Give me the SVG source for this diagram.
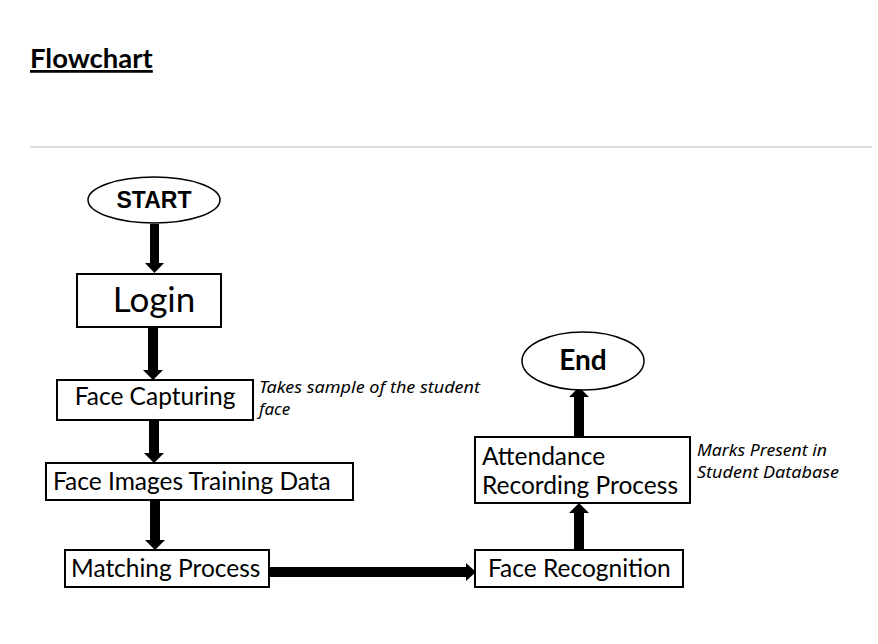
<svg xmlns="http://www.w3.org/2000/svg" width="878" height="644" viewBox="0 0 878 644">
<style>
.box{fill:#fff;stroke:#000;stroke-width:2}
.t{font-family:Lato,"Open Sans",sans-serif;font-size:24.5px;fill:#000}
.note{font-family:"Noto Sans","Open Sans",sans-serif;font-style:italic;font-size:17px;fill:#000}
.shaft{fill:#000}
</style>
<rect width="878" height="644" fill="#fff"/>
<text x="30" y="68" font-family="Lato,'Open Sans',sans-serif" font-weight="bold" font-size="27.5" fill="#000" text-decoration="underline">Flowchart</text>
<line x1="30" y1="147" x2="872" y2="147" stroke="#dcdcdc" stroke-width="2"/>
<g id="connectors">
<polygon class="shaft" points="150,224 159,224 159,263 164,263 154.5,273 145,263 150,263"/>
<polygon class="shaft" points="148,327 158,327 158,370 163,370 153,380 143,370 148,370"/>
<polygon class="shaft" points="149,420 159,420 159,453 164,453 154,463 144,453 149,453"/>
<polygon class="shaft" points="150,500 160,500 160,540 165,540 155,550 145,540 150,540"/>
<polygon class="shaft" points="269,567 466,567 466,563 476,572 466,581 466,577 269,577"/>
<polygon class="shaft" points="574,550 584,550 584,513 589,513 579,503 569,513 574,513"/>
<polygon class="shaft" points="574,437 584,437 584,397 589,397 579,387 569,397 574,397"/>
</g>
<g id="start">
<ellipse cx="154" cy="200" rx="66" ry="23" fill="#fff" stroke="#000" stroke-width="1.5"/>
<text x="154" y="208" text-anchor="middle" font-family="'Liberation Sans',Arial,sans-serif" font-weight="bold" font-size="23" fill="#000">START</text>
</g>
<g id="login">
<rect class="box" x="77" y="274" width="144" height="53"/>
<text x="154" y="312" text-anchor="middle" font-family="Lato,sans-serif" font-size="35" fill="#000">Login</text>
</g>
<g id="face-capturing">
<rect class="box" x="57" y="380" width="196" height="40"/>
<text class="t" x="155" y="405" text-anchor="middle">Face Capturing</text>
<text class="note" x="259" y="393" textLength="221" lengthAdjust="spacingAndGlyphs">Takes sample of the student</text>
<text class="note" x="259" y="415">face</text>
</g>
<g id="training-data">
<rect class="box" x="46" y="463" width="307" height="37"/>
<text class="t" x="53" y="490">Face Images Training Data</text>
</g>
<g id="matching">
<rect class="box" x="65" y="550" width="204" height="37"/>
<text class="t" x="71" y="577">Matching Process</text>
</g>
<g id="face-recognition">
<rect class="box" x="475" y="550" width="208" height="37"/>
<text class="t" x="488" y="577">Face Recognition</text>
</g>
<g id="attendance">
<rect class="box" x="475" y="437" width="215" height="66"/>
<text class="t" x="482" y="465">Attendance</text>
<text class="t" x="482" y="494">Recording Process</text>
<text class="note" x="697" y="456" textLength="130" lengthAdjust="spacingAndGlyphs">Marks Present in</text>
<text class="note" x="697" y="478" textLength="142" lengthAdjust="spacingAndGlyphs">Student Database</text>
</g>
<g id="end">
<ellipse cx="583" cy="361" rx="61" ry="29" fill="#fff" stroke="#000" stroke-width="1.5"/>
<text x="583" y="370" text-anchor="middle" font-family="Lato,sans-serif" font-weight="bold" font-size="28" fill="#000">End</text>
</g>
</svg>
